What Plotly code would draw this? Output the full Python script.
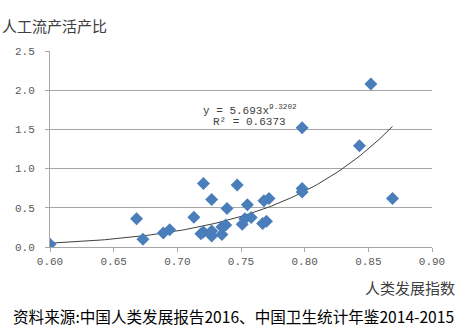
import numpy as np
import plotly.graph_objects as go

# Human development index (x) vs induced-abortion / live-birth ratio (y)
hdi = [0.600, 0.668, 0.673, 0.689, 0.694, 0.713, 0.7185, 0.7205, 0.7205, 0.727,
       0.727, 0.727, 0.735, 0.735, 0.738, 0.739, 0.747, 0.751, 0.753, 0.755,
       0.758, 0.767, 0.770, 0.768, 0.772, 0.798, 0.798, 0.798, 0.843, 0.852, 0.869]
ratio = [0.035, 0.36, 0.10, 0.18, 0.22, 0.38, 0.17, 0.19, 0.81, 0.605,
         0.205, 0.14, 0.16, 0.255, 0.28, 0.49, 0.79, 0.29, 0.36, 0.54,
         0.375, 0.30, 0.33, 0.59, 0.62, 0.70, 0.745, 1.52, 1.29, 2.08, 0.62]

# Power trendline shown on the chart: y = a * x^b
trend_a = 5.693
trend_b = 9.3202
trend_r2 = 0.6373
trend_x_start, trend_x_end = 0.600, 0.869

x_ticks = [0.60, 0.65, 0.70, 0.75, 0.80, 0.85, 0.90]
y_ticks = [0.0, 0.5, 1.0, 1.5, 2.0, 2.5]

tx = np.linspace(trend_x_start, trend_x_end, 120)
ty = trend_a * tx ** trend_b

mono = "Liberation Mono"
cjk = "Noto Sans CJK SC"
grid = "#A6A6A6"

fig = go.Figure()
fig.add_trace(go.Scatter(x=tx, y=ty, mode="lines",
                         line=dict(color="#404040", width=1), hoverinfo="skip"))
fig.add_trace(go.Scatter(x=hdi, y=ratio, mode="markers",
                         marker=dict(symbol="diamond", size=10, color="#4A7EBB",
                                     line=dict(width=0))))

fig.update_layout(
    width=471, height=333,
    margin=dict(l=50, r=39, t=51, b=86),
    paper_bgcolor="white", plot_bgcolor="white",
    showlegend=False,
    xaxis=dict(range=[0.6, 0.9], tickvals=x_ticks,
               ticktext=[f"{v:.2f}" for v in x_ticks],
               showgrid=False, zeroline=False,
               showline=True, linecolor=grid, linewidth=1,
               ticks="outside", ticklen=4, tickcolor=grid,
               tickfont=dict(family=mono, size=11, color="#595959")),
    yaxis=dict(range=[0, 2.5], tickvals=y_ticks,
               ticktext=[f"{v:.1f}" for v in y_ticks],
               showgrid=True, gridcolor=grid, gridwidth=1, zeroline=False,
               showline=True, linecolor=grid, linewidth=1,
               ticks="outside", ticklen=4, tickcolor=grid,
               ticklabelstandoff=8,
               tickfont=dict(family=mono, size=11, color="#595959")),
)

fig.add_annotation(text="人工流产活产比", xref="paper", yref="paper",
                   x=-50/382, y=1 + 25/196, xanchor="left", yanchor="middle",
                   showarrow=False, font=dict(family=cjk, size=15, color="#404040"))
fig.add_annotation(text="人类发展指数", xref="paper", yref="paper",
                   x=1 + 25/382, y=-40/196, xanchor="right", yanchor="middle",
                   showarrow=False, font=dict(family=cjk, size=15, color="#404040"))
fig.add_annotation(text="资料来源:中国人类发展报告2016、中国卫生统计年鉴2014-2015",
                   xref="paper", yref="paper",
                   x=-39/382, y=-69/196, xanchor="left", yanchor="middle",
                   showarrow=False, font=dict(family=cjk, size=15.6, color="#000000"))
fig.add_annotation(text=f"y = {trend_a}x<sup>{trend_b}</sup>",
                   x=0.757, y=1.745, xanchor="center", yanchor="middle",
                   showarrow=False, font=dict(family=mono, size=11, color="#404040"))
fig.add_annotation(text=f"R² = {trend_r2}",
                   x=0.757, y=1.593, xanchor="center", yanchor="middle",
                   showarrow=False, font=dict(family=mono, size=11, color="#404040"))

fig.write_html("out.html")
